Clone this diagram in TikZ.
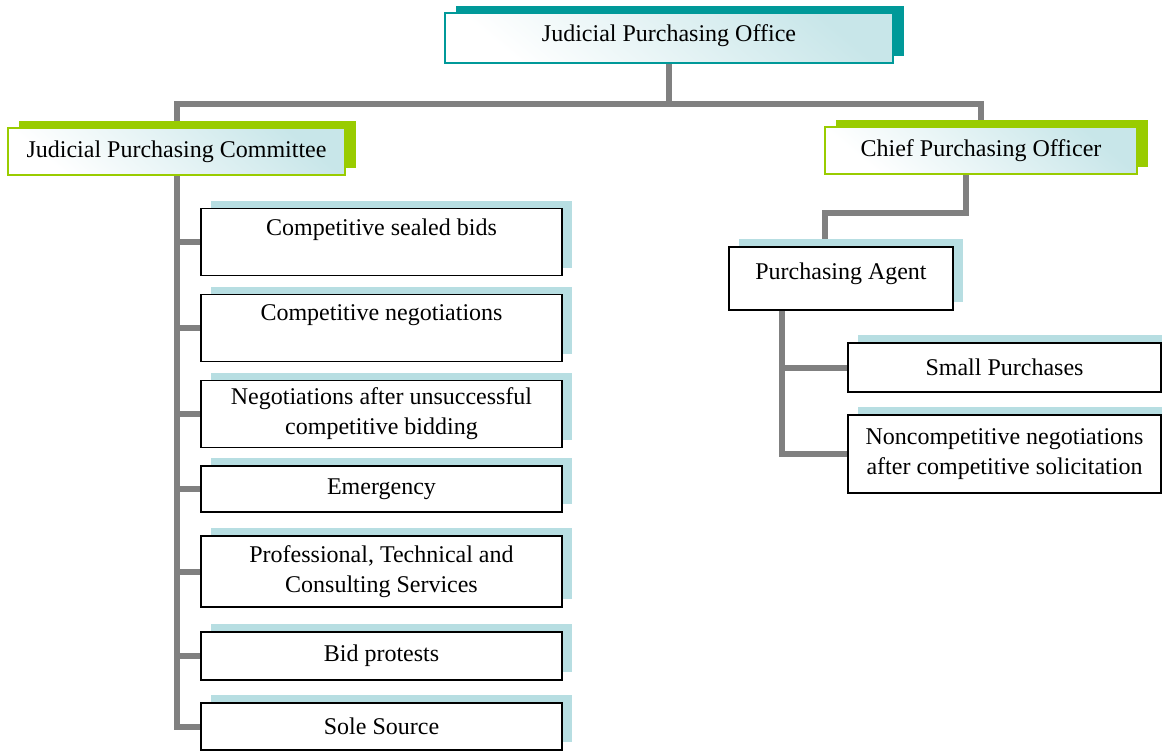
\documentclass[tikz,border=0pt]{standalone}
\usepackage{fontspec}
\setmainfont{Liberation Serif}
\usetikzlibrary{shadows,backgrounds}
\definecolor{headteal}{RGB}{0,153,153}
\definecolor{headgreen}{RGB}{153,204,0}
\definecolor{paleblue}{RGB}{183,222,226}
\definecolor{tint}{RGB}{200,230,233}
\definecolor{linkgray}{RGB}{128,128,128}
\begin{document}
\begin{tikzpicture}[x=0.5pt,y=-0.5pt,
  font=\fontsize{12}{15}\selectfont,
  headbox/.style={rectangle,line width=0.9pt,top color=tint,bottom color=white,shading angle=-40,align=center,inner sep=2pt},
  officebox/.style={headbox,draw=headteal,general shadow={fill=headteal,shadow xshift=5.5pt,shadow yshift=3.5pt}},
  levelbox/.style={headbox,draw=headgreen,general shadow={fill=headgreen,shadow xshift=5.5pt,shadow yshift=3.5pt}},
  methodbox/.style={rectangle,draw=black,line width=0.9pt,fill=white,align=center,inner sep=2pt,general shadow={fill=paleblue,shadow xshift=5pt,shadow yshift=4pt}},
  connector/.style={draw=linkgray,line width=3pt}]
\useasboundingbox (0,0) rectangle (1162,752);

\node[officebox,minimum width=224pt,minimum height=25pt,text depth=5pt] (office) at (669,38) {Judicial Purchasing Office};
\node[levelbox,minimum width=168.5pt,minimum height=23.5pt] (committee) at (176.5,151.5) {Judicial Purchasing Committee};
\node[levelbox,minimum width=156pt,minimum height=23.5pt] (chief) at (981,150.5) {Chief Purchasing Officer};

\node[methodbox,minimum width=180.5pt,minimum height=33.5pt] (sealed) at (381.5,242) {Competitive sealed bids\\~};
\node[methodbox,minimum width=180.5pt,minimum height=33.5pt] (negot) at (381.5,328) {Competitive negotiations\\~};
\node[methodbox,minimum width=180.5pt,minimum height=33.5pt] (after) at (381.5,414) {Negotiations after unsuccessful\\competitive bidding};
\node[methodbox,minimum width=180.5pt,minimum height=23pt] (emerg) at (381.5,489) {Emergency};
\node[methodbox,minimum width=180.5pt,minimum height=35.5pt] (prof) at (381.5,571.5) {Professional, Technical and\\Consulting Services};
\node[methodbox,minimum width=180.5pt,minimum height=24pt] (protest) at (381.5,656) {Bid protests};
\node[methodbox,minimum width=180.5pt,minimum height=23.5pt] (sole) at (381.5,726.5) {Sole Source};

\node[methodbox,minimum width=112pt,minimum height=31.5pt,text depth=7pt] (agent) at (841,278.5) {Purchasing Agent};
\node[methodbox,minimum width=156.5pt,minimum height=24.5pt] (small) at (1004.5,367.5) {Small Purchases};
\node[methodbox,minimum width=156.5pt,minimum height=39pt] (noncomp) at (1004.5,454) {Noncompetitive negotiations\\after competitive solicitation};

\begin{scope}[on background layer]
\draw[connector] (office.south) -- ++(0,40) -| (committee.north);
\draw[connector] (office.south) -- ++(0,40) -| (chief.north);
\foreach \m in {sealed,negot,after,emerg,prof,protest,sole}
  \draw[connector] (committee.south) |- (\m.west);
\draw[connector] ([xshift=-7.5pt]chief.south) -- ++(0,38) -| ([xshift=-8pt]agent.north);
\foreach \m in {small,noncomp}
  \draw[connector] ([xshift=27pt]agent.south west) |- (\m.west);
\end{scope}
\end{tikzpicture}
\end{document}
